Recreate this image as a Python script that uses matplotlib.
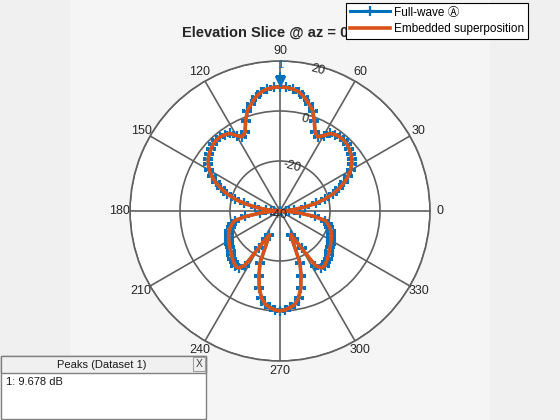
import numpy as np
import matplotlib
matplotlib.use("Agg")
import matplotlib.pyplot as plt
from matplotlib.patches import Rectangle
from matplotlib.transforms import ScaledTranslation

plt.rcParams['font.family'] = ['Liberation Sans', 'DejaVu Sans', 'Noto Sans CJK JP']

# elevation angle (deg) and gain (dB), every 3 deg
angles_deg = np.arange(0, 361, 3)
full_wave_db = [
    -40.0, -37.6, -34.4, -30.0, -25.4, -21.3, -17.6, -14.6, -11.8, -9.4,
    -7.4, -5.8, -4.5, -3.6, -2.8, -2.2, -1.9, -1.9, -2.3, -3.0,
    -5.2, -6.7, -5.6, -1.6, 2.2, 4.4, 6.6, 8.2, 9.1, 9.5,
    9.678,
    9.5, 9.1, 8.2, 6.6, 4.4, 2.2, -1.6, -5.6, -6.7, -5.2,
    -3.0, -2.3, -1.9, -1.9, -2.2, -2.8, -3.6, -4.5, -5.8, -7.4,
    -9.4, -11.8, -14.6, -17.6, -21.3, -25.4, -30.0, -34.4, -37.6,
    -40.0,
    -36.4, -32.0, -26.0, -21.4, -20.2, -19.2, -18.2, -17.5, -16.9, -16.4,
    -15.8, -15.2, -14.6, -13.8, -13.1, -12.4, -11.7, -11.8, -14.0, -22.8,
    -27.6, -29.6, -17.6, -12.8, -8.0, -4.4, -2.2, -1.2, -0.4,
    0.0,
    -0.4, -1.2, -2.2, -4.4, -8.0, -12.8, -17.6, -29.6, -27.6, -22.8,
    -14.0, -11.8, -11.7, -12.4, -13.1, -13.8, -14.6, -15.2, -15.8, -16.4,
    -16.9, -17.5, -18.2, -19.2, -20.2, -21.4, -26.0, -32.0, -36.4,
    -40.0,
]
# superposition result overlaps the full-wave trace within the line width
embedded_db = list(full_wave_db)

r_ticks = [-40, -20, 0, 20]
theta_ticks = list(range(0, 360, 30))
peak_angle = 90
peak_db = 9.678

blue = '#0072BD'
orange = '#D95319'
grid_c = '#606060'
txt_c = '#262626'

fig = plt.figure(figsize=(5.6, 4.2), dpi=100, facecolor='#f0f0f0')
fig.patches.append(Rectangle((0.125, 0), 0.75, 1, transform=fig.transFigure,
                             facecolor='#f5f5f5', edgecolor='none', zorder=-5))

ax = fig.add_axes([130 / 560, 59 / 420, 300 / 560, 300 / 420], projection='polar')
ax.set_facecolor('white')
th = np.deg2rad(angles_deg)
ax.plot(th, full_wave_db, color=blue, lw=2.2, marker='+', ms=6.5, mew=1.6,
        label='Full-wave \u24b6', zorder=3)
ax.plot(th, embedded_db, color=orange, lw=2.6, label='Embedded superposition', zorder=4)

ax.set_rlim(r_ticks[0], r_ticks[-1])
ax.set_rgrids(r_ticks, labels=[''] * len(r_ticks))
# radial labels drawn on top of the traces, along the 75 deg spoke
for v in r_ticks:
    ax.annotate(str(v), xy=(np.deg2rad(75), v), xytext=(-1, -3),
                textcoords='offset points', ha='center', va='center',
                rotation=-15 if v > r_ticks[0] else 0, fontsize=9,
                color=txt_c, zorder=10)
ax.set_thetagrids(theta_ticks, labels=[str(v) for v in theta_ticks], fontsize=9,
                  color=txt_c)
ax.tick_params(axis='x', pad=-3)
ax.grid(True, color=grid_c, lw=1.2)
ax.spines['polar'].set_color(grid_c)
ax.spines['polar'].set_linewidth(1.2)

# peak marker
ax.plot([np.deg2rad(peak_angle)], [peak_db], marker='v', ms=7, color=blue, zorder=6,
        transform=ax.transData + ScaledTranslation(0, 6 / 100, fig.dpi_scale_trans))
ax.annotate('1', xy=(np.deg2rad(peak_angle), peak_db), xytext=(0, 12),
            textcoords='offset points', ha='center', va='bottom', color=blue,
            fontsize=8, zorder=6,
            arrowprops=dict(arrowstyle='-', color=blue, lw=1.5, shrinkA=0, shrinkB=6))

fig.text(280 / 560, 1 - 33 / 420, 'Elevation Slice @ az = 0 deg', ha='center',
         va='center', fontsize=10.5, fontweight='bold', color=txt_c)

leg = fig.legend(loc='upper left', bbox_to_anchor=(346 / 560, 1 - 3 / 420),
                 fontsize=8.5, frameon=True, fancybox=False, edgecolor='black',
                 handlelength=3.4, borderpad=0.3, labelspacing=0.4,
                 handletextpad=0.4, borderaxespad=0)
leg.get_frame().set_linewidth(0.8)
leg.get_frame().set_facecolor('white')
leg.get_frame().set_alpha(1)

# peaks table
W, H = 560, 420
fig.patches.append(Rectangle((0.5 / W, 1 / H), 205 / W, 63 / H, transform=fig.transFigure,
                             facecolor='white', edgecolor='#808080', lw=1, zorder=5))
fig.patches.append(Rectangle((0.5 / W, (H - 373) / H), 205 / W, 17 / H, transform=fig.transFigure,
                             facecolor='#f0f0f0', edgecolor='#808080', lw=1, zorder=5))
fig.patches.append(Rectangle((193 / W, (H - 371) / H), 12 / W, 14 / H, transform=fig.transFigure,
                             facecolor='#f0f0f0', edgecolor='#a0a0a0', lw=0.8, zorder=6))
fig.text(102 / W, 1 - 365 / H, 'Peaks (Dataset 1)', ha='center', va='center',
         fontsize=8, color='#1a1a1a', zorder=7)
fig.text(199 / W, 1 - 364 / H, 'X', ha='center', va='center', fontsize=7.5,
         color='#404040', zorder=7)
fig.text(6 / W, 1 - 382 / H, f'1: {peak_db:.3f} dB', ha='left', va='center',
         fontsize=8, color='#1a1a1a', zorder=7)

fig.savefig('out.png', dpi=100, facecolor=fig.get_facecolor())
